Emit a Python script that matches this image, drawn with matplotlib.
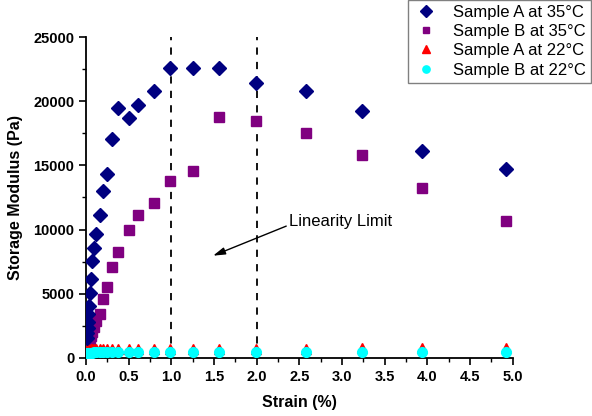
import matplotlib
matplotlib.use("Agg")
import matplotlib.pyplot as plt
from matplotlib.ticker import MultipleLocator

plt.rcParams['font.family'] = ['Liberation Sans', 'DejaVu Sans']

# strain sweep (%), shared by all four runs
strain = [0.012, 0.015, 0.018, 0.023, 0.029, 0.037, 0.046, 0.058, 0.073, 0.092,
          0.12, 0.16, 0.20, 0.25, 0.31, 0.38, 0.50, 0.61, 0.80, 0.98,
          1.25, 1.56, 1.99, 2.58, 3.23, 3.94, 4.92]

# storage modulus (Pa)
a_35 = [1500, 1900, 2300, 2800, 3400, 4000, 5050, 6140, 7520, 8560,
        9650, 11100, 13030, 14330, 17070, 19490, 18710, 19750, 20840, 22600,
        22580, 22580, 21410, 20840, 19220, 16150, 14690]
b_35 = [650, 700, 760, 850, 950, 1100, 1400, 1700, 2000, 2400,
        2900, 3380, 4580, 5500, 7050, 8250, 9960, 11100, 12050, 13750,
        14550, 18750, 18500, 17550, 15800, 13250, 10700]
a_22 = [600, 610, 610, 620, 620, 630, 630, 640, 640, 640,
        650, 650, 650, 660, 660, 660, 670, 670, 670, 680,
        680, 690, 700, 710, 720, 740, 760]
b_22 = [380, 380, 390, 390, 390, 400, 400, 400, 400, 410,
        410, 410, 410, 420, 420, 420, 420, 430, 430, 430,
        430, 440, 440, 450, 460, 470, 480]

labels = ['Sample A at 35°C', 'Sample B at 35°C', 'Sample A at 22°C', 'Sample B at 22°C']
limits = [1.0, 2.0]


def main():
    fig = plt.figure(figsize=(5.92, 4.16), dpi=100)
    ax = fig.add_axes([86 / 592, 1 - 357.7 / 416, 426.5 / 592, 320.4 / 416])

    ax.plot(strain, a_35, 'D', color='#000080', ms=7.5, mec='#000080', ls='none', label=labels[0], zorder=4)
    ax.plot(strain, b_35, 's', color='#800080', ms=6.5, mec='#800080', ls='none', label=labels[1], zorder=3)
    ax.plot(strain, a_22, '^', color='#ff0000', ms=7, mec='#ff0000', ls='none', label=labels[2], zorder=3)
    ax.plot(strain, b_22, 'o', color='#00ffff', ms=7, mec='#00ffff', ls='none', label=labels[3], zorder=4)

    ax.vlines(limits, 0, 25000, colors='black', linestyles=(0, (4, 4)), lw=1.3, zorder=2)

    ax.annotate('Linearity Limit', xy=(1.49, 7960), xytext=(2.38, 10590),
                fontsize=12, va='center', ha='left',
                arrowprops=dict(arrowstyle='-|>,head_length=0.6,head_width=0.18',
                                color='black', lw=1, shrinkA=0, shrinkB=0,
                                relpos=(0, 0.3)))

    ax.set_xlim(0, 5.0)
    ax.set_ylim(0, 25000)
    ax.xaxis.set_major_locator(MultipleLocator(0.5))
    ax.xaxis.set_minor_locator(MultipleLocator(0.25))
    ax.yaxis.set_major_locator(MultipleLocator(5000))
    ax.yaxis.set_minor_locator(MultipleLocator(2500))
    ax.xaxis.set_major_formatter(plt.FuncFormatter(lambda v, p: f'{v:.1f}'))
    ax.yaxis.set_major_formatter(plt.FuncFormatter(lambda v, p: f'{v:.0f}'))

    for s in ['top', 'right']:
        ax.spines[s].set_visible(False)
    for s in ['left', 'bottom']:
        ax.spines[s].set_linewidth(1.3)

    ax.tick_params(which='major', direction='out', length=5, width=1.2, labelsize=10.5)
    ax.tick_params(which='minor', direction='out', length=3, width=1.0)
    for t in ax.get_xticklabels() + ax.get_yticklabels():
        t.set_fontweight('bold')

    ax.set_xlabel('Strain (%)', fontsize=11.5, fontweight='bold', labelpad=8)
    ax.set_ylabel('Storage Modulus (Pa)', fontsize=11.5, fontweight='bold', labelpad=7)

    leg = fig.legend(loc='upper right', bbox_to_anchor=(591 / 592, 1.0),
                     fontsize=12, numpoints=1, fancybox=False, framealpha=1,
                     edgecolor='#808080', borderpad=0.3, labelspacing=0.25,
                     handlelength=1.5, handletextpad=0.9, borderaxespad=0,
                     markerscale=0.75)
    leg.get_frame().set_linewidth(1.0)

    fig.savefig('out.png', dpi=100)


if __name__ == "__main__":
    main()
